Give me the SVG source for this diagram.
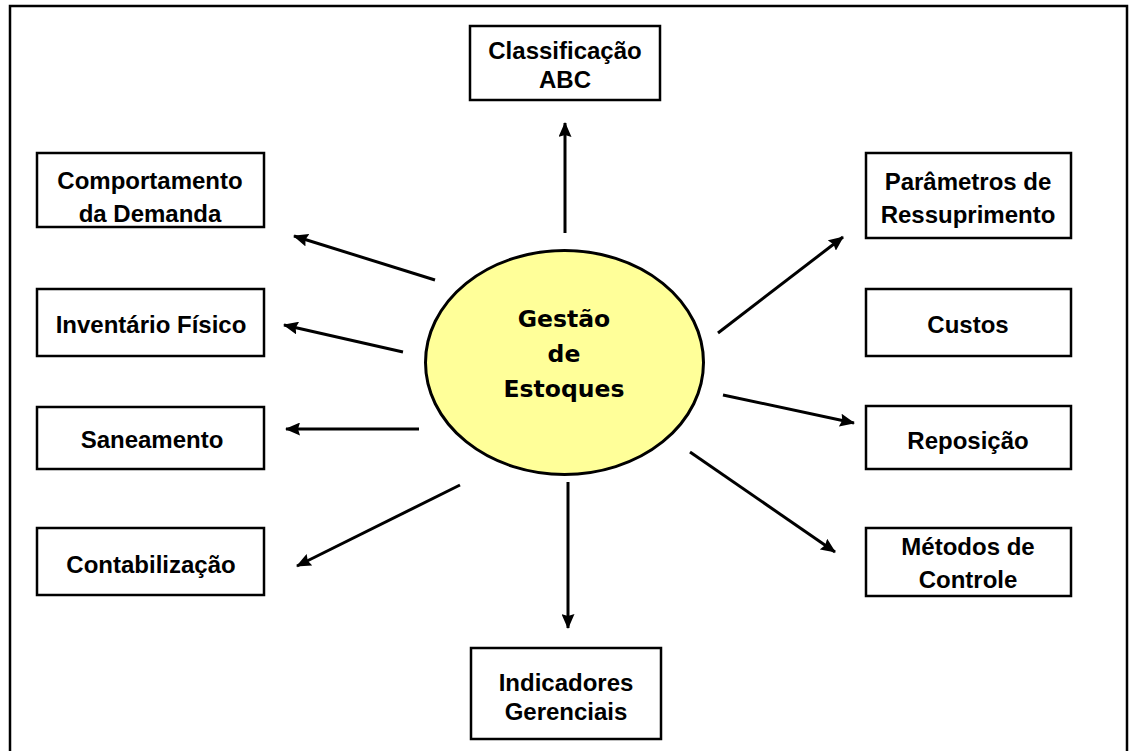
<svg xmlns="http://www.w3.org/2000/svg" width="1131" height="751" viewBox="0 0 1131 751">
<defs>
<marker id="ah" markerUnits="userSpaceOnUse" markerWidth="15" markerHeight="13" refX="14" refY="6.5" orient="auto">
<path d="M0,0 L15,6.5 L0,13 L2,6.5 Z" fill="#000"/>
</marker>
<style>
.box{fill:#fff;stroke:#000;stroke-width:2.5}
.t{font-family:"Liberation Sans",Arial,sans-serif;font-weight:bold;font-size:24px;fill:#000;text-anchor:middle}
.c{font-family:"DejaVu Sans",Tahoma,sans-serif;font-weight:bold;font-size:23.5px;fill:#000;text-anchor:middle}
.arr{stroke:#000;stroke-width:3;fill:none;marker-end:url(#ah)}
</style>
</defs>
<rect width="1131" height="751" fill="#fff"/>
<path d="M10,751 L10,6 L1127,6 L1127,751" fill="none" stroke="#000" stroke-width="2.5"/>
<g id="connectors">
<line class="arr" x1="565" y1="233" x2="565" y2="123"/>
<line class="arr" x1="568" y1="482" x2="568" y2="628"/>
<line class="arr" x1="435" y1="280" x2="294" y2="236"/>
<line class="arr" x1="403" y1="352" x2="284" y2="325"/>
<line class="arr" x1="419" y1="429" x2="286" y2="429"/>
<line class="arr" x1="460" y1="485" x2="297" y2="566"/>
<line class="arr" x1="718" y1="333" x2="843" y2="237"/>
<line class="arr" x1="723" y1="395" x2="854" y2="423"/>
<line class="arr" x1="690" y1="452" x2="835" y2="552"/>
</g>
<g id="center">
<ellipse cx="564.5" cy="362.5" rx="139" ry="112" fill="#ffff99" stroke="#000" stroke-width="3"/>
<text class="c" x="564" y="327">Gestão</text>
<text class="c" x="564" y="362">de</text>
<text class="c" x="564" y="397">Estoques</text>
</g>
<g id="abc">
<rect class="box" x="470" y="26" width="190" height="74"/>
<text class="t" x="565" y="59">Classificação</text>
<text class="t" x="565" y="88">ABC</text>
</g>
<g id="demanda">
<rect class="box" x="37" y="153" width="227" height="74"/>
<text class="t" x="150" y="189">Comportamento</text>
<text class="t" x="150" y="222">da Demanda</text>
</g>
<g id="inventario">
<rect class="box" x="37" y="289" width="227" height="67"/>
<text class="t" x="151" y="333">Inventário Físico</text>
</g>
<g id="saneamento">
<rect class="box" x="37" y="407" width="227" height="62"/>
<text class="t" x="152" y="448">Saneamento</text>
</g>
<g id="contabilizacao">
<rect class="box" x="37" y="528" width="227" height="67"/>
<text class="t" x="151" y="573">Contabilização</text>
</g>
<g id="parametros">
<rect class="box" x="866" y="153" width="205" height="85"/>
<text class="t" x="968" y="190">Parâmetros de</text>
<text class="t" x="968" y="223">Ressuprimento</text>
</g>
<g id="custos">
<rect class="box" x="866" y="289" width="205" height="67"/>
<text class="t" x="968" y="333">Custos</text>
</g>
<g id="reposicao">
<rect class="box" x="866" y="406" width="205" height="63"/>
<text class="t" x="968" y="449">Reposição</text>
</g>
<g id="metodos">
<rect class="box" x="866" y="528" width="205" height="68"/>
<text class="t" x="968" y="555">Métodos de</text>
<text class="t" x="968" y="588">Controle</text>
</g>
<g id="indicadores">
<rect class="box" x="471" y="648" width="190" height="91"/>
<text class="t" x="566" y="691">Indicadores</text>
<text class="t" x="566" y="720">Gerenciais</text>
</g>
</svg>
